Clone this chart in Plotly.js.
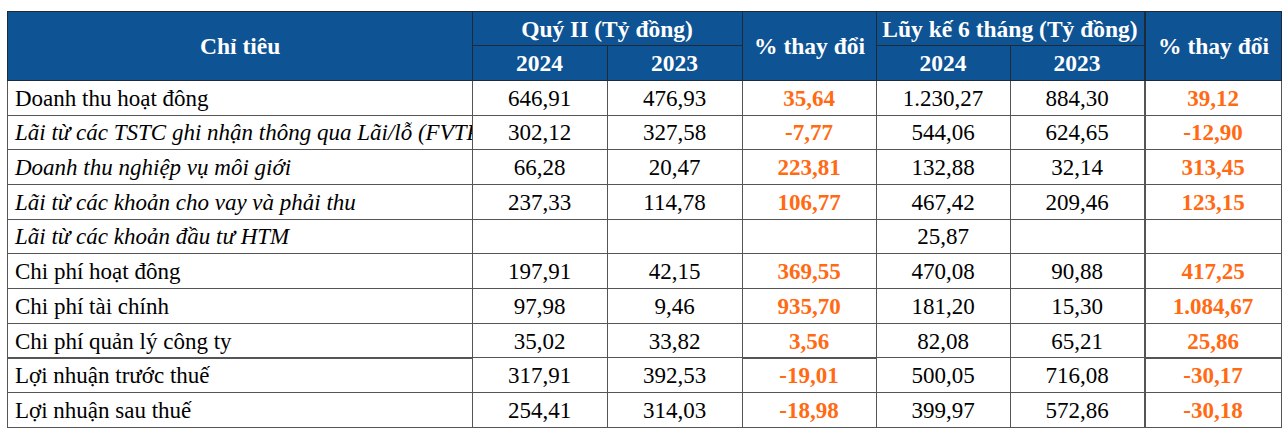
<!DOCTYPE html>
<html>
<head>
<meta charset="utf-8">
<script src="https://cdn.plot.ly/plotly-3.0.1.min.js"></script>
<style>html,body{margin:0;padding:0;background:#fff;}#chart{width:1287px;height:435px;}</style>
</head>
<body>
<div id="chart"></div>
<script>
// ---- data ----
const labels = [
  "Doanh thu hoạt đông",
  "Lãi từ các TSTC ghi nhận thông qua Lãi/lỗ (FVTPL)",
  "Doanh thu nghiệp vụ môi giới",
  "Lãi từ các khoản cho vay và phải thu",
  "Lãi từ các khoản đầu tư HTM",
  "Chi phí hoạt đông",
  "Chi phí tài chính",
  "Chi phí quản lý công ty",
  "Lợi nhuận trước thuế",
  "Lợi nhuận sau thuế"
];
const labelItalic = [false, true, true, true, true, false, false, false, false, false];
const q2_2024 = [646.91, 302.12, 66.28, 237.33, null, 197.91, 97.98, 35.02, 317.91, 254.41];
const q2_2023 = [476.93, 327.58, 20.47, 114.78, null, 42.15, 9.46, 33.82, 392.53, 314.03];
const q2_pct  = [35.64, -7.77, 223.81, 106.77, null, 369.55, 935.70, 3.56, -19.01, -18.98];
const h1_2024 = [1230.27, 544.06, 132.88, 467.42, 25.87, 470.08, 181.20, 82.08, 500.05, 399.97];
const h1_2023 = [884.30, 624.65, 32.14, 209.46, null, 90.88, 15.30, 65.21, 716.08, 572.86];
const h1_pct  = [39.12, -12.90, 313.45, 123.15, null, 417.25, 1084.67, 25.86, -30.17, -30.18];
const headLabel = "Chỉ tiêu";
const headQ2 = "Quý II (Tỷ đồng)";
const headH1 = "Lũy kế 6 tháng (Tỷ đồng)";
const headPct = "% thay đổi";
const years = ["2024", "2023"];

// ---- helpers ----
function fmt(v) {
  if (v === null || v === undefined) return "";
  const neg = v < 0;
  const s = Math.abs(v).toFixed(2).split(".");
  const int = s[0].replace(/\B(?=(\d{3})+(?!\d))/g, ".");
  return (neg ? "-" : "") + int + "," + s[1];
}
const W = 1287, H = 435;
const colX = [7, 472, 607, 742, 876, 1011, 1145, 1282];
const topY = 11, hHalf = 34.7, rowH = 34.7;
const blue = "#0e5394";
const orange = "#ff6a12";
const hdrLine = "#1e2a3a";
const cellLine = "#555555";
const FONT = "Liberation Serif, Times New Roman, serif";
const hdrFont = {family: FONT, size: 23.5, color: "#ffffff", weight: "bold"};
const cellFont = {family: FONT, size: 23, color: "#000000"};
const pctFont = {family: FONT, size: 23, color: orange, weight: "bold"};

const dx = (a, b) => [a / W, b / W];
const yFull = [0, 1 - topY / H];
const yHeadTop = [1 - (topY + hHalf + 6) / H, 1 - topY / H];
const ySub = [0, 1 - (topY + hHalf) / H];

// non-breaking spaces keep each cell on one line (no auto-wrap / row growth)
const nb = s => s.replace(/ /g, "\u00a0");

function spanHeader(x0, x1) {
  return {
    type: "table",
    domain: {x: dx(x0, x1), y: yFull},
    columnwidth: [1],
    header: {values: [""], height: 2 * hHalf, fill: {color: blue}, line: {color: hdrLine, width: 1}, font: hdrFont},
    cells: {values: [[]], height: rowH, line: {color: cellLine, width: 1}},
    hoverinfo: "skip"
  };
}

const traces = [];
const labelTrace = spanHeader(colX[0], colX[1]);
labelTrace.cells = {
  values: [labels.map(nb)],
  height: rowH, align: "left",
  fill: {color: "#ffffff"}, line: {color: cellLine, width: 1},
  font: {family: FONT, size: 23, color: "#000000", style: [labelItalic.map(b => b ? "italic" : "normal")]}
};
traces.push(labelTrace);

function groupTop(x0, x1, title) {
  return {
    type: "table",
    domain: {x: dx(x0, x1), y: yHeadTop},
    columnwidth: [1],
    header: {values: [nb(title)], height: hHalf, align: "center", fill: {color: blue}, line: {color: hdrLine, width: 1}, font: hdrFont},
    cells: {values: [[]], height: rowH},
    hoverinfo: "skip"
  };
}
function groupSub(x0, x1, a, b) {
  return {
    type: "table",
    domain: {x: dx(x0, x1), y: ySub},
    columnwidth: [colX[2] - colX[1], colX[3] - colX[2]],
    header: {values: years, height: hHalf, align: "center", fill: {color: blue}, line: {color: hdrLine, width: 1}, font: hdrFont},
    cells: {values: [a.map(fmt), b.map(fmt)], height: rowH, align: "center", fill: {color: "#ffffff"}, line: {color: cellLine, width: 1}, font: cellFont},
    hoverinfo: "skip"
  };
}
function pctCol(x0, x1, p) {
  const t = spanHeader(x0, x1);
  t.cells = {values: [p.map(fmt)], height: rowH, align: "center", fill: {color: "#ffffff"}, line: {color: cellLine, width: 1}, font: pctFont};
  return t;
}

traces.push(groupTop(colX[1], colX[3], headQ2));
traces.push(groupSub(colX[1], colX[3], q2_2024, q2_2023));
traces.push(pctCol(colX[3], colX[4], q2_pct));
traces.push(groupTop(colX[4], colX[6], headH1));
traces.push(groupSub(colX[4], colX[6], h1_2024, h1_2023));
traces.push(pctCol(colX[6], colX[7], h1_pct));

const midY = 1 - (topY + hHalf) / H;
const ann = (x0, x1, text) => ({
  xref: "paper", yref: "paper", x: (x0 + x1) / 2 / W, y: midY,
  xanchor: "center", yanchor: "middle", showarrow: false,
  text: "<b>" + text + "</b>", font: {family: FONT, size: 23.5, color: "#ffffff"}
});

const layout = {
  width: W, height: H,
  margin: {l: 0, r: 0, t: 0, b: 0},
  paper_bgcolor: "#ffffff",
  showlegend: false,
  annotations: [
    ann(colX[0], colX[1], headLabel),
    ann(colX[3], colX[4], headPct),
    ann(colX[6], colX[7], headPct)
  ]
};
Plotly.newPlot("chart", traces, layout, {displayModeBar: false, staticPlot: true});
</script>
</body>
</html>
